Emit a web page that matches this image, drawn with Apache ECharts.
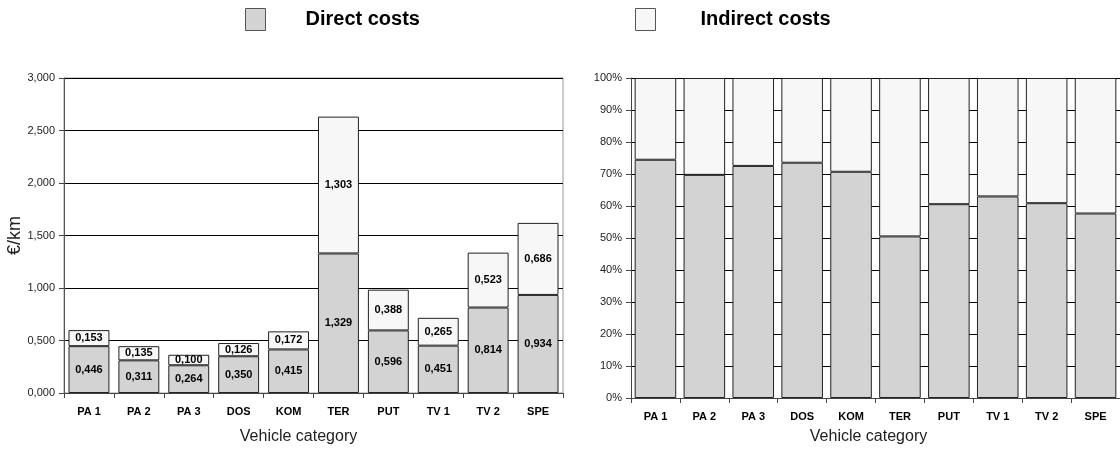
<!DOCTYPE html>
<html>
<head>
<meta charset="utf-8">
<script src="https://cdn.jsdelivr.net/npm/echarts@6/dist/echarts.min.js"></script>
<style>html,body{margin:0;padding:0;background:#fff}#c{width:1120px;height:451px}</style>
</head>
<body>
<div id="c"></div>
<script>
const categories = ['PA 1','PA 2','PA 3','DOS','KOM','TER','PUT','TV 1','TV 2','SPE'];
const directCosts = [0.446,0.311,0.264,0.350,0.415,1.329,0.596,0.451,0.814,0.934];
const indirectCosts = [0.153,0.135,0.100,0.126,0.172,1.303,0.388,0.265,0.523,0.686];
const seriesNames = ['Direct costs','Indirect costs'];

const directPct = directCosts.map((d,i)=> d/(d+indirectCosts[i])*100);
const indirectPct = directPct.map(p => 100 - p);

const FONT = '"Liberation Sans", Arial, sans-serif';
const DIRECT_COLOR = '#d3d3d3';
const INDIRECT_COLOR = '#f7f7f7';
const BORDER = '#222';
const fmt = v => v.toFixed(3).replace('.', ',');

const chart = echarts.init(document.getElementById('c'));
const labelStyle = {show:true, position:'inside', fontFamily:FONT, fontSize:11, fontWeight:'bold', color:'#000', formatter:p=>fmt(p.value)};

chart.setOption({
  animation:false,
  textStyle:{fontFamily:FONT},
  legend:[
    {data:[seriesNames[0]], icon:'rect', left:245, top:8, padding:0, itemWidth:20, itemHeight:22, selectedMode:false,
     itemStyle:{borderColor:'#555', borderWidth:1},
     textStyle:{fontFamily:FONT, fontSize:20, fontWeight:'bold', color:'#000', padding:[0,0,0,35]}},
    {data:[seriesNames[1]], icon:'rect', left:635, top:8, padding:0, itemWidth:20, itemHeight:22, selectedMode:false,
     itemStyle:{borderColor:'#555', borderWidth:1},
     textStyle:{fontFamily:FONT, fontSize:20, fontWeight:'bold', color:'#000', padding:[0,0,0,40]}}
  ],
  grid:[
    {left:64, top:78, width:499, height:315, show:true, borderColor:'#999', borderWidth:1, backgroundColor:'transparent'},
    {left:631, top:78, width:495, height:320}
  ],
  xAxis:[
    {type:'category', gridIndex:0, data:categories,
     axisLine:{lineStyle:{color:'#444'}}, axisTick:{show:true, length:5, lineStyle:{color:'#444'}},
     axisLabel:{fontFamily:FONT, fontSize:11, fontWeight:'bold', color:'#000', margin:13},
     name:'Vehicle category', nameLocation:'middle', nameGap:36,
     nameTextStyle:{fontFamily:FONT, fontSize:16, color:'#222', padding:[0,30,0,0]}},
    {type:'category', gridIndex:1, data:categories,
     axisLine:{lineStyle:{color:'#444'}}, axisTick:{show:true, length:5, lineStyle:{color:'#444'}},
     axisLabel:{fontFamily:FONT, fontSize:11, fontWeight:'bold', color:'#000', margin:13},
     name:'Vehicle category', nameLocation:'middle', nameGap:31,
     nameTextStyle:{fontFamily:FONT, fontSize:16, color:'#222', padding:[0,14,0,0]}}
  ],
  yAxis:[
    {type:'value', gridIndex:0, min:0, max:3, interval:0.5,
     axisLine:{show:true, lineStyle:{color:'#555'}}, axisTick:{show:true, length:5, lineStyle:{color:'#444'}},
     splitLine:{show:true, lineStyle:{color:'#000', width:1}},
     axisLabel:{fontFamily:FONT, fontSize:11, color:'#222', margin:9, formatter:v=>fmt(v)},
     name:'€/km', nameLocation:'middle', nameGap:39, nameRotate:90,
     nameTextStyle:{fontFamily:FONT, fontSize:18, color:'#222'}},
    {type:'value', gridIndex:1, min:0, max:100, interval:10,
     axisLine:{show:true, lineStyle:{color:'#444'}}, axisTick:{show:true, length:5, lineStyle:{color:'#444'}},
     splitLine:{show:true, lineStyle:{color:'#000', width:1}},
     axisLabel:{fontFamily:FONT, fontSize:11, color:'#222', margin:9, formatter:v=>v+'%'}}
  ],
  series:[
    {name:seriesNames[0], type:'bar', stack:'a', xAxisIndex:0, yAxisIndex:0, data:directCosts, barCategoryGap:'18%',
     itemStyle:{color:DIRECT_COLOR, borderColor:BORDER, borderWidth:1}, label:labelStyle},
    {name:seriesNames[1], type:'bar', stack:'a', xAxisIndex:0, yAxisIndex:0, data:indirectCosts, barCategoryGap:'18%',
     itemStyle:{color:INDIRECT_COLOR, borderColor:BORDER, borderWidth:1}, label:labelStyle},
    {name:seriesNames[0], type:'bar', stack:'b', xAxisIndex:1, yAxisIndex:1, data:directPct, barCategoryGap:'15%',
     itemStyle:{color:DIRECT_COLOR, borderColor:BORDER, borderWidth:1}},
    {name:seriesNames[1], type:'bar', stack:'b', xAxisIndex:1, yAxisIndex:1, data:indirectPct, barCategoryGap:'15%',
     itemStyle:{color:INDIRECT_COLOR, borderColor:BORDER, borderWidth:1}}
  ]
});
</script>
</body>
</html>
